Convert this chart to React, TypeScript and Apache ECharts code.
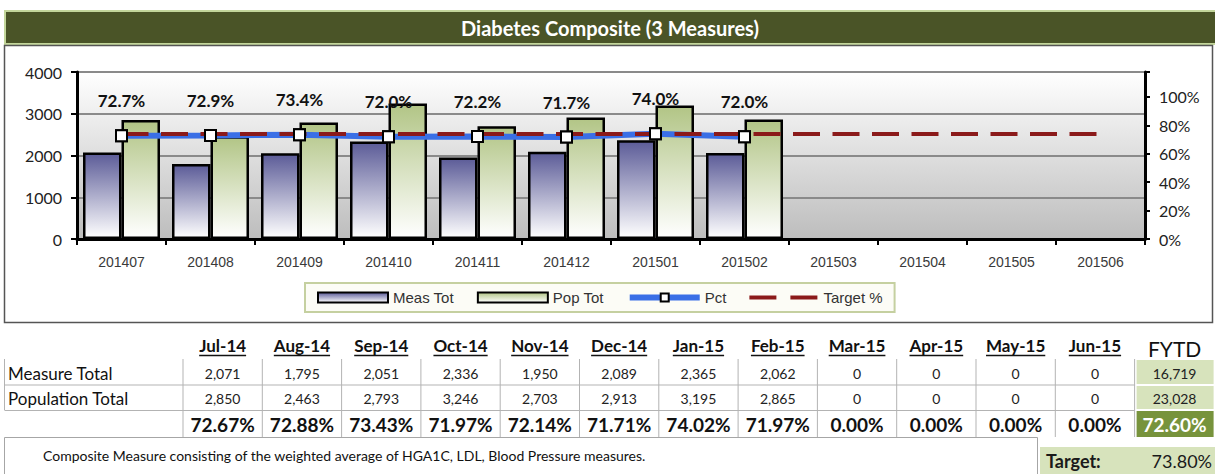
import React, { useEffect, useRef } from "react";
import * as echarts from "echarts";

const categories = ["201407", "201408", "201409", "201410", "201411", "201412", "201501", "201502", "201503", "201504", "201505", "201506"];
const monthLabels = ["Jul-14", "Aug-14", "Sep-14", "Oct-14", "Nov-14", "Dec-14", "Jan-15", "Feb-15", "Mar-15", "Apr-15", "May-15", "Jun-15"];
const measTot = [2071, 1795, 2051, 2336, 1950, 2089, 2365, 2062, 0, 0, 0, 0];
const popTot = [2850, 2463, 2793, 3246, 2703, 2913, 3195, 2865, 0, 0, 0, 0];
const pctChart = [0.727, 0.729, 0.734, 0.72, 0.722, 0.717, 0.74, 0.72];
const targetPct = 0.738;
const rowLabels = ["Measure Total", "Population Total"];
const footnote = "Composite Measure consisting of the weighted average of HGA1C, LDL, Blood Pressure measures.";
const titleText = "Diabetes Composite (3 Measures)";

const LATO = "Lato, 'Noto Sans', sans-serif";
const ARIAL = "'Liberation Sans', Arial, sans-serif";

function fmtInt(v: number) {
  return v.toLocaleString("en-US");
}
function fmtPct2(v: number) {
  return (v * 100).toFixed(2) + "%";
}

function measure(text: string, font: string) {
  const c = document.createElement("canvas").getContext("2d");
  if (!c) return text.length * 8;
  c.font = font;
  return c.measureText(text).width;
}

function txt(x: number, y: number, text: string, font: string, fill: string, align = "center") {
  return {
    type: "text",
    x,
    y,
    silent: true,
    style: { text, font, fill, align, textAlign: align, verticalAlign: "middle", textVerticalAlign: "middle" },
  };
}
function ln(x1: number, y1: number, x2: number, y2: number, stroke: string, lineWidth = 1) {
  return { type: "line", silent: true, shape: { x1, y1, x2, y2 }, style: { stroke, lineWidth } };
}
function rc(x: number, y: number, width: number, height: number, style: any) {
  return { type: "rect", silent: true, shape: { x, y, width, height }, style };
}

const dashIcon =
  "path://M0,0L0.05,0L0.05,0.05Z M0,3L27,3L27,7L0,7Z M41,3L68,3L68,7L41,7Z M0,10L0.05,10L0.05,9.95Z";

export default function App() {
  const ref = useRef<HTMLDivElement>(null);

  useEffect(() => {
    if (!ref.current) return;
    const chart = echarts.init(ref.current, undefined, { renderer: "svg" });

    const colX0 = 183;
    const colW = 79.3;
    const cc = (i: number) => colX0 + colW * (i + 0.5);
    const fytdX = colX0 + colW * 12;
    const fytdC = fytdX + 40;
    const gridColor = "#b3b3b3";

    const sumMeas = measTot.reduce((a, b) => a + b, 0);
    const sumPop = popTot.reduce((a, b) => a + b, 0);

    const g: any[] = [];
    // title band
    g.push(rc(5, 11, 1212, 33, { fill: "#4a5427", stroke: "#c3d69b", lineWidth: 2 }));
    g.push(txt(610, 28, titleText, `bold 20px ${LATO}`, "#ffffff"));
    // chart frame
    g.push(rc(4.5, 45.5, 1208, 277, { fill: null, stroke: "#555555", lineWidth: 1.5 }));

    // table header
    const hFont = `bold 17px ${LATO}`;
    monthLabels.forEach((m, i) => {
      g.push(txt(cc(i), 345, m, hFont, "#111111"));
      const w = measure(m, hFont);
      g.push(ln(cc(i) - w / 2, 355.5, cc(i) + w / 2, 355.5, "#111111", 1.5));
    });
    g.push(txt(fytdC, 348, "FYTD", `21px ${LATO}`, "#111111"));

    // grid lines
    for (let k = 0; k <= 12; k++) {
      g.push(ln(colX0 + colW * k, 359, colX0 + colW * k, 437, gridColor, 1));
    }
    g.push(ln(4.5, 359, 4.5, 410, gridColor, 1));
    g.push(ln(4.5, 385, fytdX, 385, gridColor, 1));
    g.push(ln(4.5, 410.5, fytdX, 410.5, gridColor, 1));

    // FYTD cells
    g.push(rc(fytdX + 2, 360, 77, 24, { fill: "#d7e3bc" }));
    g.push(rc(fytdX + 2, 386, 77, 23, { fill: "#d7e3bc" }));
    g.push(rc(fytdX + 2, 411, 77, 26, { fill: "#77933c" }));

    // row labels
    g.push(txt(8, 373, rowLabels[0], `17px ${LATO}`, "#111111", "left"));
    g.push(txt(8, 398, rowLabels[1], `17px ${LATO}`, "#111111", "left"));

    const vFont = `14px ${LATO}`;
    measTot.forEach((v, i) => g.push(txt(cc(i), 373, fmtInt(v), vFont, "#222222")));
    popTot.forEach((v, i) => g.push(txt(cc(i), 398, fmtInt(v), vFont, "#222222")));
    const pFont = `bold 19px ${LATO}`;
    measTot.forEach((v, i) => g.push(txt(cc(i), 424, fmtPct2(popTot[i] ? v / popTot[i] : 0), pFont, "#111111")));
    g.push(txt(fytdC, 373, fmtInt(sumMeas), vFont, "#222222"));
    g.push(txt(fytdC, 398, fmtInt(sumPop), vFont, "#222222"));
    g.push(txt(fytdC, 424, fmtPct2(sumMeas / sumPop), pFont, "#ffffff"));

    // footnote box
    g.push(rc(4.5, 437.5, 1033, 45, { fill: null, stroke: "#a6a6a6", lineWidth: 1 }));
    g.push(txt(43, 455, footnote, `14px ${LATO}`, "#111111", "left"));

    // target box
    g.push(rc(1040, 447, 175, 27, { fill: "#d7e3bc" }));
    g.push(txt(1046, 461, "Target:", `bold 18px ${LATO}`, "#1a1a1a", "left"));
    g.push(txt(1212, 461, fmtPct2(targetPct), `18px ${LATO}`, "#1a1a1a", "right"));

    const barPurple = new echarts.graphic.LinearGradient(0, 0, 0, 1, [
      { offset: 0, color: "#5c5c98" },
      { offset: 1, color: "#ffffff" },
    ]);
    const barGreen = new echarts.graphic.LinearGradient(0, 0, 0, 1, [
      { offset: 0, color: "#b2c586" },
      { offset: 1, color: "#ffffff" },
    ]);
    const plotBg = new echarts.graphic.LinearGradient(0, 0, 0, 1, [
      { offset: 0, color: "#ffffff" },
      { offset: 1, color: "#bdbdbd" },
    ]);

    const markerStyle = { color: "#ffffff", borderColor: "#000000", borderWidth: 2 };

    const option: any = {
      animation: false,
      backgroundColor: "#ffffff",
      textStyle: { fontFamily: LATO },
      graphic: { elements: g },
      grid: {
        left: 77,
        right: 70,
        top: 72,
        bottom: 235,
        show: true,
        backgroundColor: plotBg,
        borderWidth: 0,
      },
      legend: {
        left: 305,
        top: 283,
        padding: [7, 12, 7, 12],
        itemWidth: 70,
        itemHeight: 10,
        itemGap: 23,
        borderColor: "#c5d0a0",
        borderWidth: 2,
        backgroundColor: "#fcfcf6",
        lineStyle: { width: "inherit" },
        textStyle: { fontFamily: ARIAL, fontSize: 15, color: "#333333" },
        data: [
          { name: "Meas Tot", icon: "rect" },
          { name: "Pop Tot", icon: "rect" },
          { name: "Pct" },
          { name: "Target %", icon: dashIcon, itemStyle: { color: "#8b1a1a", borderWidth: 0 } },
        ],
      },
      xAxis: {
        type: "category",
        data: categories,
        axisLine: { lineStyle: { color: "#000000", width: 3 } },
        axisTick: { show: true, length: 6, lineStyle: { color: "#000000", width: 2 } },
        axisLabel: { color: "#3a3a3a", fontFamily: ARIAL, fontSize: 14, margin: 16 },
        splitLine: { show: false },
      },
      yAxis: [
        {
          type: "value",
          min: 0,
          max: 4000,
          interval: 1000,
          axisLine: { show: true, lineStyle: { color: "#000000", width: 3 } },
          axisTick: { show: true, length: 6, lineStyle: { color: "#000000", width: 2 } },
          axisLabel: { color: "#222222", fontFamily: LATO, fontSize: 16, margin: 15, formatter: (v: number) => String(v) },
          splitLine: { show: true, lineStyle: { color: "#8a8a8a", width: 2 } },
        },
        {
          type: "value",
          min: 0,
          max: 1.175,
          interval: 0.2,
          position: "right",
          axisLine: { show: true, lineStyle: { color: "#000000", width: 3 } },
          axisTick: { show: true, length: 5, lineStyle: { color: "#000000", width: 2 } },
          axisLabel: {
            color: "#222222",
            fontFamily: LATO,
            fontSize: 16,
            margin: 14,
            formatter: (v: number) => (v > 1.0001 ? "" : Math.round(v * 100) + "%"),
          },
          splitLine: { show: false },
        },
      ],
      series: [
        {
          name: "Meas Tot",
          type: "bar",
          data: measTot.map((v) => (v ? v : null)),
          barGap: "0%",
          barCategoryGap: "13.5%",
          itemStyle: { color: barPurple, borderColor: "#000000", borderWidth: 2.5 },
          z: 2,
        },
        {
          name: "Pop Tot",
          type: "bar",
          data: popTot.map((v) => (v ? v : null)),
          itemStyle: { color: barGreen, borderColor: "#000000", borderWidth: 2.5 },
          z: 2,
        },
        {
          name: "Pct",
          type: "line",
          yAxisIndex: 1,
          data: pctChart,
          symbol: "rect",
          symbolSize: 11,
          lineStyle: { color: "#3a6fe6", width: 6 },
          itemStyle: markerStyle,
          label: {
            show: true,
            position: "top",
            distance: 20,
            formatter: (p: any) => (p.value * 100).toFixed(1) + "%",
            fontFamily: LATO,
            fontWeight: "bold",
            fontSize: 17,
            color: "#111111",
          },
          z: 3,
        },
        {
          name: "Target %",
          type: "line",
          yAxisIndex: 1,
          data: categories.map(() => targetPct),
          symbol: "none",
          lineStyle: { color: "#8b1a1a", width: 4, type: [27, 12.5] },
          itemStyle: { color: "#8b1a1a" },
          z: 4,
        },
        {
          name: "PctMarkers",
          type: "line",
          yAxisIndex: 1,
          data: pctChart,
          symbol: "rect",
          symbolSize: 11,
          lineStyle: { width: 0, opacity: 0 },
          itemStyle: markerStyle,
          silent: true,
          z: 5,
        },
      ],
    };

    chart.setOption(option);
    return () => chart.dispose();
  }, []);

  return (
    <div
      ref={ref}
      style={{ position: "fixed", left: 0, top: 0, width: 1215, height: 474, background: "#fff" }}
    />
  );
}
